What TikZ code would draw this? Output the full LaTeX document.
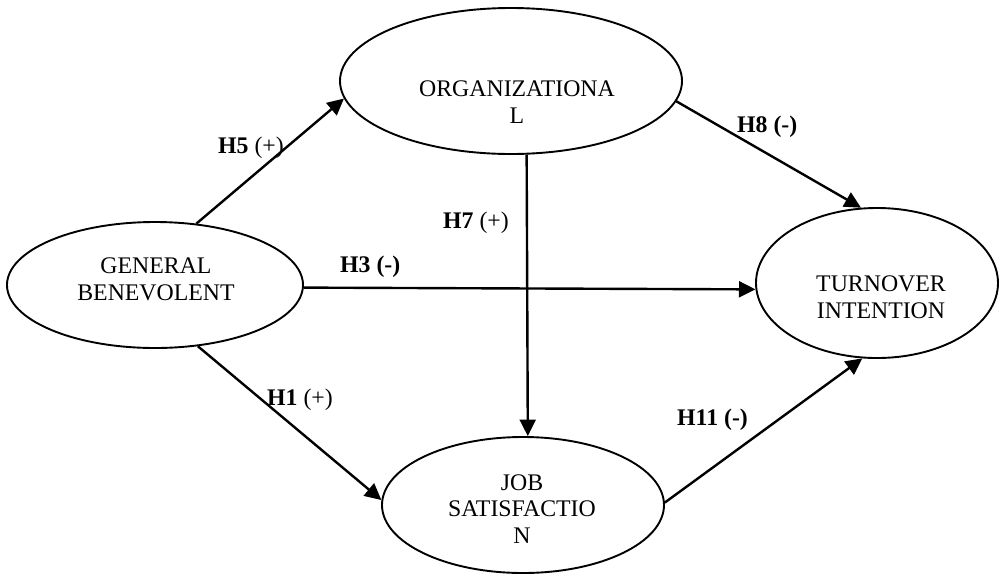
\documentclass[tikz,border=0pt]{standalone}
\usepackage{fontspec}
\setmainfont{Liberation Serif}
\usetikzlibrary{shapes.geometric,arrows.meta}
\begin{document}
\begin{tikzpicture}[x=1pt,y=-1pt,
  construct/.style={draw,ellipse,line width=1.9pt,inner sep=0pt},
  caption/.style={inner sep=0pt,align=center,font=\fontsize{23.8}{27}\selectfont},
  hyp/.style={inner sep=0pt,anchor=base west,font=\fontsize{23.8}{27}\selectfont},
  link/.style={line width=2.4pt,-{Triangle[length=16.5pt,width=16pt]}}]
\useasboundingbox (0,0) rectangle (999,574);

% constructs
\node[construct,minimum width=342pt,minimum height=146pt] (org) at (511,81) {};
\node[construct,minimum width=296pt,minimum height=126pt] (gb) at (155,285) {};
\node[construct,minimum width=242pt,minimum height=150pt] (ti) at (877,283) {};
\node[construct,minimum width=282pt,minimum height=136pt] (js) at (523,505) {};

% construct names
\node[caption] (orgtext) at (517,102) {ORGANIZATIONA\\L};
\node[caption] (gbtext) at (156,279) {GENERAL\\BENEVOLENT};
\node[caption] (titext) at (881,297) {TURNOVER\\INTENTION};
\node[caption,font=\fontsize{23.8}{26.5}\selectfont] (jstext) at (522,509) {JOB\\SATISFACTIO\\N};

% hypothesised paths
\draw[link] (gb.56) -- (org.186);
\draw[link] (gb.-1.2) -- (ti.183.8);
\draw[link] (org.282) -- (js.86.6);
\draw[link] (org.-7) -- (ti.102.8);
\draw[link] (gb.-55.3) -- (js.178.8);
\draw[link] (js.1.2) -- (ti.259);

% path labels
\node[hyp] (h5) at (218,153) {\textbf{H5} (+)};
\node[hyp] (h8) at (737,132) {\textbf{H8 (-)}};
\node[hyp] (h3) at (340,272) {\textbf{H3 (-)}};
\node[hyp] (h7) at (443,228) {\textbf{H7} (+)};
\node[hyp] (h1) at (267,405) {\textbf{H1} (+)};
\node[hyp] (h11) at (677,425) {\textbf{H11 (-)}};
\end{tikzpicture}
\end{document}
